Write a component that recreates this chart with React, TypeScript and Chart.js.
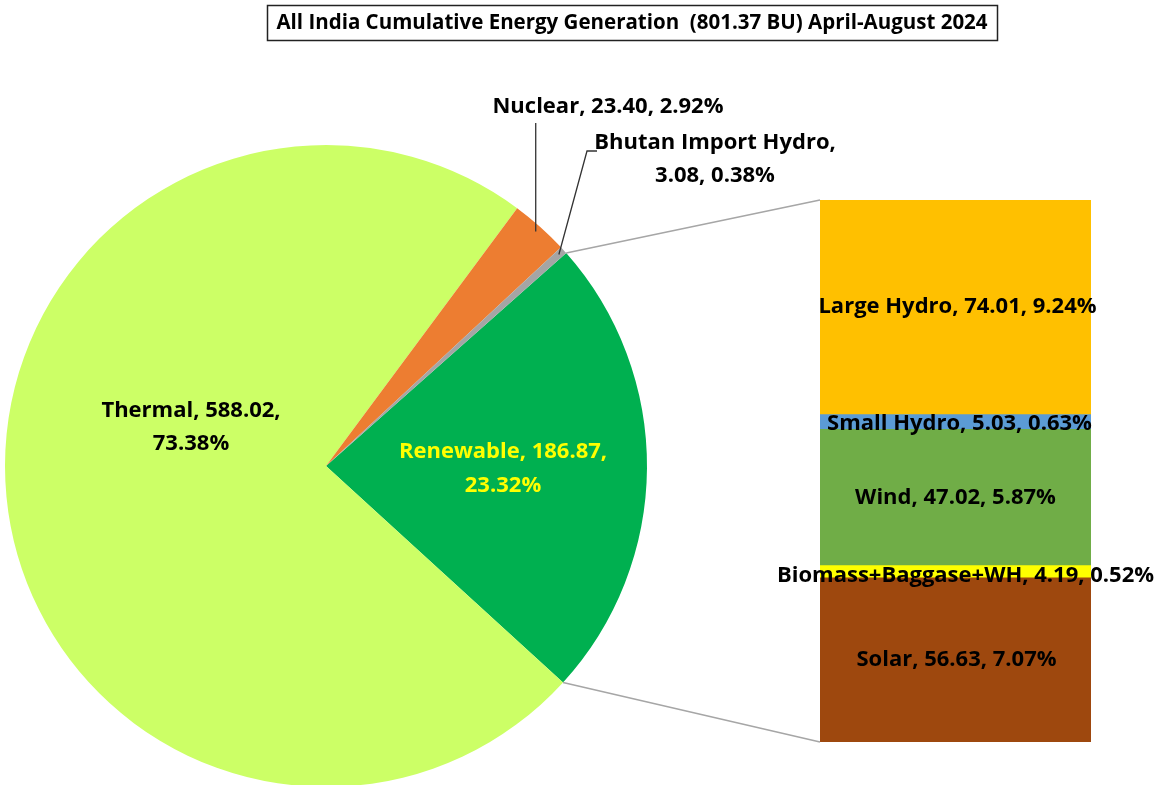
import React, { useEffect, useRef } from "react";
import { Chart, registerables } from "chart.js";
Chart.register(...registerables);

const titleText = "All India Cumulative Energy Generation  (801.37 BU) April-August 2024";

const pieLabels = ["Renewable", "Thermal", "Nuclear", "Bhutan Import Hydro"];
const pieValues = [186.87, 588.02, 23.4, 3.08];
const piePercents = ["23.32%", "73.38%", "2.92%", "0.38%"];
const pieColors = ["#00B050", "#CCFF66", "#ED7D31", "#A5A5A5"];

// bottom to top in the stacked bar
const barLabels = ["Solar", "Biomass+Baggase+WH", "Wind", "Small Hydro", "Large Hydro"];
const barValues = [56.63, 4.19, 47.02, 5.03, 74.01];
const barPercents = ["7.07%", "0.52%", "5.87%", "0.63%", "9.24%"];
const barColors = ["#9E480E", "#FFFF00", "#70AD47", "#5B9BD5", "#FFC000"];

const FONT = "bold 22px 'Open Sans', Lato, sans-serif";
const TITLE_FONT = "bold 20.5px 'Open Sans', Lato, sans-serif";

const fmt = (v: number) => v.toFixed(2);

export default function App() {
  const pieRef = useRef<HTMLCanvasElement>(null);
  const barRef = useRef<HTMLCanvasElement>(null);

  useEffect(() => {
    if (!pieRef.current || !barRef.current) return;

    const pieLabelPlugin = {
      id: "pieLabels",
      afterDraw(chart: any) {
        const ctx = chart.ctx;
        const meta = chart.getDatasetMeta(0);
        ctx.save();
        // title box
        ctx.strokeStyle = "#222";
        ctx.lineWidth = 1.5;
        ctx.strokeRect(267.5, 5.5, 730, 35);
        ctx.font = TITLE_FONT;
        ctx.fillStyle = "#000";
        ctx.textAlign = "center";
        ctx.textBaseline = "middle";
        ctx.fillText(titleText, 632, 23);

        ctx.font = FONT;
        // Thermal label
        ctx.fillText(`${pieLabels[1]}, ${fmt(pieValues[1])},`, 191, 411);
        ctx.fillText(piePercents[1], 191, 444);
        // Renewable label
        ctx.fillStyle = "#FFFF00";
        ctx.fillText(`${pieLabels[0]}, ${fmt(pieValues[0])},`, 503, 452);
        ctx.fillText(piePercents[0], 503, 486);
        ctx.fillStyle = "#000";
        // Nuclear label
        ctx.fillText(`${pieLabels[2]}, ${fmt(pieValues[2])}, ${piePercents[2]}`, 608, 107);
        // Bhutan label
        ctx.fillText(`${pieLabels[3]},`, 715, 143);
        ctx.fillText(`${fmt(pieValues[3])}, ${piePercents[3]}`, 715, 176);

        // leader lines
        ctx.strokeStyle = "#333";
        ctx.lineWidth = 1.3;
        const nuc = meta.data[2];
        const nm = (nuc.startAngle + nuc.endAngle) / 2;
        const nx = nuc.x + Math.cos(nm) * nuc.outerRadius * 0.98;
        const ny = nuc.y + Math.sin(nm) * nuc.outerRadius * 0.98;
        ctx.beginPath();
        ctx.moveTo(nx, ny);
        ctx.lineTo(nx, 123);
        ctx.stroke();

        const bh = meta.data[3];
        const bm = (bh.startAngle + bh.endAngle) / 2;
        const bx = bh.x + Math.cos(bm) * bh.outerRadius * 0.98;
        const by = bh.y + Math.sin(bm) * bh.outerRadius * 0.98;
        ctx.beginPath();
        ctx.moveTo(bx, by);
        ctx.lineTo(587, 151);
        ctx.lineTo(597, 151);
        ctx.stroke();
        ctx.restore();
      },
    };

    const pie = new Chart(pieRef.current, {
      type: "pie",
      data: {
        labels: pieLabels,
        datasets: [
          {
            data: pieValues,
            backgroundColor: pieColors,
            borderWidth: 0,
          },
        ],
      },
      options: {
        responsive: false,
        animation: false,
        rotation: 48.45,
        layout: { padding: { left: 5, right: 517, top: 145, bottom: 13 } },
        plugins: { legend: { display: false }, tooltip: { enabled: false } },
      },
      plugins: [pieLabelPlugin],
    });

    const total = barValues.reduce((a, b) => a + b, 0);
    const labelOffsets = [
      { dx: 1, dy: 0 },
      { dx: 10, dy: 4 },
      { dx: 0, dy: 0 },
      { dx: 4, dy: 2 },
      { dx: 2, dy: -1 },
    ];

    const barPlugin = {
      id: "barLabels",
      afterDraw(chart: any) {
        const ctx = chart.ctx;
        ctx.save();
        // connectors
        const arc: any = pie.getDatasetMeta(0).data[0];
        const topEl: any = chart.getDatasetMeta(barValues.length - 1).data[0];
        const botEl: any = chart.getDatasetMeta(0).data[0];
        const left = topEl.x - topEl.width / 2;
        ctx.strokeStyle = "#A6A6A6";
        ctx.lineWidth = 1.5;
        ctx.beginPath();
        ctx.moveTo(arc.x + Math.cos(arc.startAngle) * arc.outerRadius, arc.y + Math.sin(arc.startAngle) * arc.outerRadius);
        ctx.lineTo(left, topEl.y);
        ctx.moveTo(arc.x + Math.cos(arc.endAngle) * arc.outerRadius, arc.y + Math.sin(arc.endAngle) * arc.outerRadius);
        ctx.lineTo(left, botEl.base);
        ctx.stroke();

        ctx.font = FONT;
        ctx.fillStyle = "#000";
        ctx.textAlign = "center";
        ctx.textBaseline = "middle";
        barValues.forEach((v, i) => {
          const el: any = chart.getDatasetMeta(i).data[0];
          const cy = (el.y + el.base) / 2;
          const o = labelOffsets[i];
          ctx.fillText(`${barLabels[i]}, ${fmt(v)}, ${barPercents[i]}`, el.x + o.dx, cy + o.dy);
        });
        ctx.restore();
      },
    };

    const bar = new Chart(barRef.current, {
      type: "bar",
      data: {
        labels: ["Renewable"],
        datasets: barValues.map((v, i) => ({
          label: barLabels[i],
          data: [v],
          backgroundColor: barColors[i],
          borderWidth: 0,
          barPercentage: 1,
          categoryPercentage: 1,
        })),
      },
      options: {
        responsive: false,
        animation: false,
        layout: { padding: { left: 820, right: 73, top: 200, bottom: 43 } },
        scales: {
          x: { stacked: true, display: false },
          y: { stacked: true, display: false, min: 0, max: total },
        },
        plugins: { legend: { display: false }, tooltip: { enabled: false } },
      },
      plugins: [barPlugin],
    });

    return () => {
      bar.destroy();
      pie.destroy();
    };
  }, []);

  return (
    <div
      style={{
        position: "absolute",
        left: 0,
        top: 0,
        width: 1164,
        height: 785,
        overflow: "hidden",
        background: "#fff",
      }}
    >
      <canvas ref={pieRef} width={1164} height={800} style={{ position: "absolute", left: 0, top: 0, display: "block" }} />
      <canvas ref={barRef} width={1164} height={785} style={{ position: "absolute", left: 0, top: 0, display: "block" }} />
    </div>
  );
}
